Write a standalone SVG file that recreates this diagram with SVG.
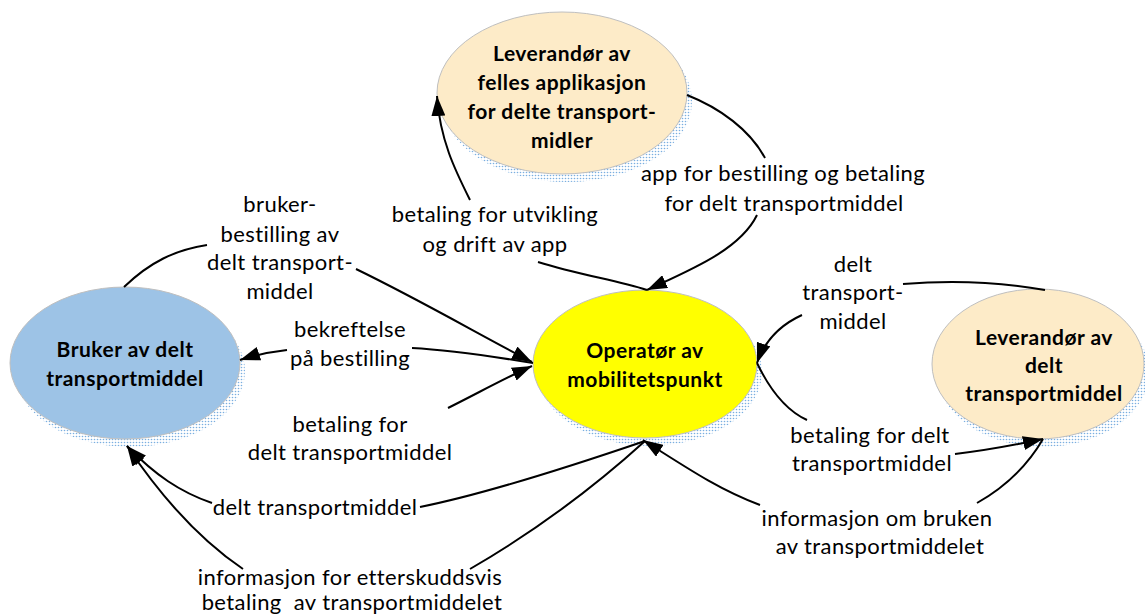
<svg xmlns="http://www.w3.org/2000/svg" width="1145" height="614" viewBox="0 0 1145 614">
<style>
.node{stroke:#bfbfbf;stroke-width:1}
.shadow{fill:url(#dots)}
.nt{font-family:Lato,"Liberation Sans",sans-serif;font-weight:bold;font-size:21px;letter-spacing:0.5px;fill:#000;text-anchor:middle}
.lb{font-family:Lato,"Liberation Sans",sans-serif;font-size:22px;letter-spacing:0.4px;fill:#000;text-anchor:middle;white-space:pre}
.cn{fill:none;stroke:#000;stroke-width:2}
</style>
<defs>
<pattern id="dots" width="3" height="3" patternUnits="userSpaceOnUse">
<circle cx="1.5" cy="1.5" r="0.8" fill="#7aaee0"/>
</pattern>
<marker id="ah" viewBox="0 0 20 14" refX="20" refY="7" markerWidth="20" markerHeight="14" markerUnits="userSpaceOnUse" orient="auto">
<path d="M0,0 L20,7 L0,14 Z" fill="#000"/>
</marker>
</defs>
<rect width="1145" height="614" fill="#fff"/>

<g id="node-app">
<ellipse class="shadow" cx="567" cy="101" rx="125" ry="81"/>
<ellipse class="node" cx="562" cy="93" rx="125" ry="81" fill="#fdebc8"/>
<text class="nt" x="562" y="61">Leverandør av</text>
<text class="nt" x="562" y="90">felles applikasjon</text>
<text class="nt" x="562" y="119">for delte transport-</text>
<text class="nt" x="562" y="148">midler</text>
</g>

<g id="node-bruker">
<ellipse class="shadow" cx="130" cy="371" rx="115" ry="76"/>
<ellipse class="node" cx="125" cy="363" rx="115" ry="76" fill="#9dc3e6"/>
<text class="nt" x="125" y="357">Bruker av delt</text>
<text class="nt" x="125" y="386">transportmiddel</text>
</g>

<g id="node-operator">
<ellipse class="shadow" cx="650" cy="372" rx="112" ry="74"/>
<ellipse class="node" cx="645" cy="364" rx="112" ry="74" fill="#ffff00"/>
<text class="nt" x="645" y="358">Operatør av</text>
<text class="nt" x="645" y="387">mobilitetspunkt</text>
</g>

<g id="node-leverandor">
<ellipse class="shadow" cx="1043" cy="372" rx="106" ry="75"/>
<ellipse class="node" cx="1038" cy="364" rx="106" ry="75" fill="#fdebc8"/>
<text class="nt" x="1044" y="345">Leverandør av</text>
<text class="nt" x="1044" y="373">delt</text>
<text class="nt" x="1044" y="401">transportmiddel</text>
</g>

<g id="connectors">
<path class="cn" d="M124,287 C150,262 175,250 207,245"/>
<path class="cn" d="M356,269 C420,300 480,335 532,362" marker-end="url(#ah)"/>
<path class="cn" d="M533,363 C490,356 450,350 412,348"/>
<path class="cn" d="M287,350 C270,352 255,355 240,360" marker-end="url(#ah)"/>
<path class="cn" d="M448,408 C480,392 505,378 532,366" marker-end="url(#ah)"/>
<path class="cn" d="M645,441 C560,470 480,495 420,507"/>
<path class="cn" d="M212,503 C180,492 155,475 127,446" marker-end="url(#ah)"/>
<path class="cn" d="M645,441 C580,500 520,540 470,569"/>
<path class="cn" d="M243,569 C200,540 160,495 127,446" marker-end="url(#ah)"/>
<path class="cn" d="M470,200 C455,170 440,140 437,96" marker-end="url(#ah)"/>
<path class="cn" d="M538,262 C580,275 615,280 647,290"/>
<path class="cn" d="M687,95 C720,108 750,130 765,158"/>
<path class="cn" d="M757,215 C740,250 690,270 647,290" marker-end="url(#ah)"/>
<path class="cn" d="M1045,290 C1000,282 950,280 903,284"/>
<path class="cn" d="M802,315 C780,325 765,340 757,363" marker-end="url(#ah)"/>
<path class="cn" d="M757,363 C770,390 785,410 807,420"/>
<path class="cn" d="M955,454 C990,450 1015,445 1043,439" marker-end="url(#ah)"/>
<path class="cn" d="M1043,439 C1025,470 1000,490 977,503"/>
<path class="cn" d="M760,505 C720,490 690,470 643,440" marker-end="url(#ah)"/>
</g>

<g id="labels">
<text class="lb" x="280" y="212">bruker-</text>
<text class="lb" x="280" y="242">bestilling av</text>
<text class="lb" x="280" y="270">delt transport-</text>
<text class="lb" x="280" y="299">middel</text>
<text class="lb" x="350" y="337">bekreftelse</text>
<text class="lb" x="350" y="366">på bestilling</text>
<text class="lb" x="350" y="432">betaling for</text>
<text class="lb" x="350" y="460">delt transportmiddel</text>
<text class="lb" x="315" y="515">delt transportmiddel</text>
<text class="lb" x="350" y="585">informasjon for etterskuddsvis</text>
<text class="lb" x="352" y="610">betaling  av transportmiddelet</text>
<text class="lb" x="495" y="222">betaling for utvikling</text>
<text class="lb" x="495" y="252">og drift av app</text>
<text class="lb" x="783" y="181">app for bestilling og betaling</text>
<text class="lb" x="784" y="211">for delt transportmiddel</text>
<text class="lb" x="853" y="272">delt</text>
<text class="lb" x="853" y="300">transport-</text>
<text class="lb" x="853" y="329">middel</text>
<text class="lb" x="870" y="443">betaling for delt</text>
<text class="lb" x="872" y="471">transportmiddel</text>
<text class="lb" x="877" y="526">informasjon om bruken</text>
<text class="lb" x="880" y="554">av transportmiddelet</text>
</g>
</svg>
